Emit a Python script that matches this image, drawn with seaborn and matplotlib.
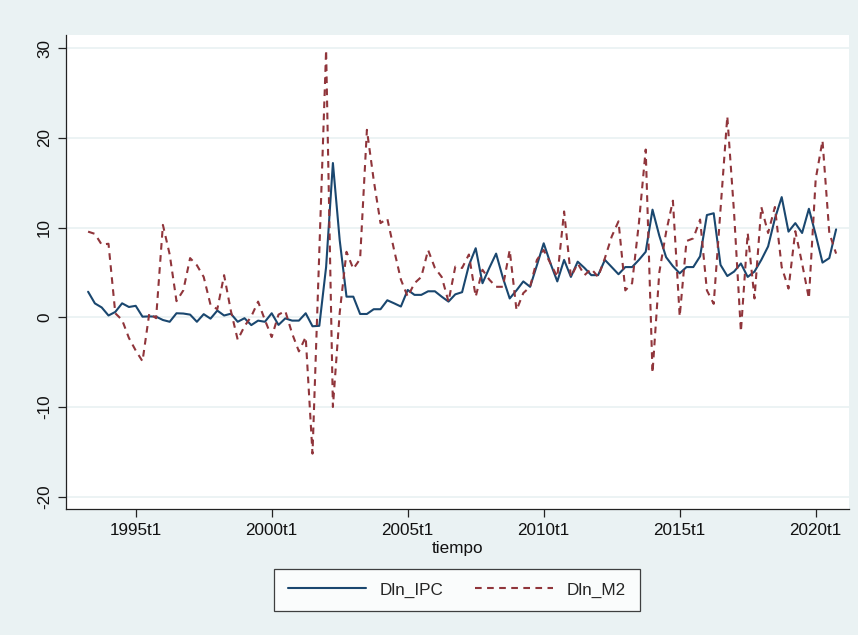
import numpy as np
import pandas as pd
import matplotlib
matplotlib.use("Agg")
import matplotlib.pyplot as plt
import seaborn as sns
from matplotlib.lines import Line2D

# quarterly data 1993t2 .. 2020t4
start_year, start_q = 1993, 2
dln_ipc = [2.85, 1.55, 1.1, 0.2, 0.6, 1.56, 1.15, 1.28, 0.07, 0.1,
           0.07, -0.3, -0.5, 0.45, 0.42, 0.3, -0.5, 0.35, -0.15, 0.75,
           0.2, 0.4, -0.5, -0.1, -0.87, -0.37, -0.5, 0.45, -0.85, -0.12,
           -0.37, -0.37, 0.45, -1.0, -0.95, 5.6, 17.2, 8.6, 2.3, 2.3,
           0.37, 0.37, 0.9, 0.9, 1.9, 1.56, 1.2, 3.05, 2.5, 2.5,
           2.9, 2.9, 2.3, 1.75, 2.56, 2.8, 5.8, 7.7, 3.8, 5.5,
           7.1, 4.4, 2.1, 3.0, 4.0, 3.4, 5.8, 8.25, 6.0, 4.0,
           6.4, 4.5, 6.2, 5.5, 4.7, 4.7, 6.4, 5.6, 4.8, 5.6,
           5.6, 6.4, 7.3, 12.0, 9.1, 6.7, 5.7, 4.9, 5.6, 5.6,
           6.8, 11.4, 11.6, 5.85, 4.6, 5.1, 6.0, 4.5, 5.1, 6.4,
           7.9, 11.0, 13.4, 9.55, 10.5, 9.4, 12.1, 9.2, 6.1, 6.6,
           9.8]
dln_m2 = [9.55, 9.3, 8.1, 8.2, 0.45, -0.3, -2.3, -3.7, -4.9, 0.45,
          -0.1, 10.3, 7.0, 1.8, 3.0, 6.6, 5.8, 4.5, 1.4, 0.9,
          4.7, 0.7, -2.5, -1.0, 0.1, 1.75, -0.3, -2.2, 0.3, 0.7,
          -1.8, -3.8, -2.2, -15.2, 7.3, 29.8, -10.0, 0.5, 7.3, 5.4,
          6.5, 20.9, 15.3, 10.5, 11.0, 7.5, 4.2, 2.3, 3.8, 4.5,
          7.5, 5.5, 4.5, 1.75, 5.65, 5.5, 7.0, 2.3, 5.3, 4.2,
          3.4, 3.4, 7.5, 0.8, 2.7, 3.4, 6.4, 7.5, 6.0, 4.5,
          11.8, 4.5, 6.0, 4.7, 5.4, 4.5, 6.6, 9.0, 10.7, 3.0,
          3.8, 10.5, 18.7, -6.2, 5.0, 9.5, 13.0, 0.1, 8.5, 8.8,
          10.9, 3.0, 1.5, 12.0, 22.4, 11.6, -1.6, 9.4, 2.1, 12.3,
          9.4, 12.3, 5.6, 3.2, 9.6, 6.0, 2.1, 15.4, 19.7, 9.4,
          7.1]
series_names = ["Dln_IPC", "Dln_M2"]
x_tick_years = [1995, 2000, 2005, 2010, 2015, 2020]
x_tick_labels = ["1995t1", "2000t1", "2005t1", "2010t1", "2015t1", "2020t1"]
y_ticks = [-20, -10, 0, 10, 20, 30]
x_label = "tiempo"

n = len(dln_ipc)
t = [start_year + (start_q - 1) / 4 + k / 4 for k in range(n)]
df = pd.DataFrame({
    "tiempo": t * 2,
    "valor": dln_ipc + dln_m2,
    "serie": [series_names[0]] * n + [series_names[1]] * n,
})

sns.set_style("white")
plt.rcParams['font.family'] = ['Liberation Sans', 'DejaVu Sans']

BG = "#EAF2F3"
fig = plt.figure(figsize=(8.58, 6.35), dpi=100, facecolor=BG)
ax_top, ax_bot, ax_left, ax_right = 35, 509, 66, 849
ax = fig.add_axes([ax_left / 858, 1 - ax_bot / 635,
                   (ax_right - ax_left) / 858, (ax_bot - ax_top) / 635])
ax.set_facecolor("white")

palette = {"Dln_IPC": "#1A476F", "Dln_M2": "#90353B"}
dashes = {"Dln_IPC": "", "Dln_M2": (3.2, 2.6)}
sns.lineplot(data=df, x="tiempo", y="valor", hue="serie", style="serie",
             palette=palette, dashes=dashes, linewidth=1.5, ax=ax,
             legend=False)

px_per_unit = 8.97
y0_px = 317.3
ax.set_xlim(1993.25 + (ax_left - 88.1) / 6.8 / 4, 1993.25 + (ax_right - 88.1) / 6.8 / 4)
ax.set_ylim((y0_px - ax_bot) / px_per_unit, (y0_px - ax_top) / px_per_unit)
ax.set_yticks(y_ticks)
ax.set_yticklabels([str(v) for v in y_ticks], rotation=90, va="center")
ax.set_xticks(x_tick_years)
ax.set_xticklabels(x_tick_labels)
ax.grid(axis="y", color=BG, linewidth=1.3)
ax.set_axisbelow(True)
for s in ["top", "right"]:
    ax.spines[s].set_visible(False)
for s in ["left", "bottom"]:
    ax.spines[s].set_color("#222222")
    ax.spines[s].set_linewidth(0.9)
ax.tick_params(axis="both", direction="out", length=6, width=0.9,
               color="#222222", labelsize=12.3, labelcolor="#111111", pad=4,
               left=True, bottom=True)
ax.set_xlabel(x_label, fontsize=12.3, color="#111111", labelpad=2)
ax.set_ylabel("")

handles = [Line2D([], [], color=palette[s], linewidth=1.5,
                  linestyle="-" if s == "Dln_IPC" else (0, (3.2, 2.6)))
           for s in series_names]
leg = fig.legend(handles, series_names, loc="center",
                 bbox_to_anchor=(457 / 858, 1 - 590 / 635), ncol=2,
                 frameon=True, fancybox=False, fontsize=12.3,
                 handlelength=4.6, columnspacing=1.8, handletextpad=0.8,
                 borderpad=0.8)
leg.get_frame().set_edgecolor("#111111")
leg.get_frame().set_linewidth(0.9)
leg.get_frame().set_facecolor("white")

fig.savefig("out.png", dpi=100, facecolor=BG)
